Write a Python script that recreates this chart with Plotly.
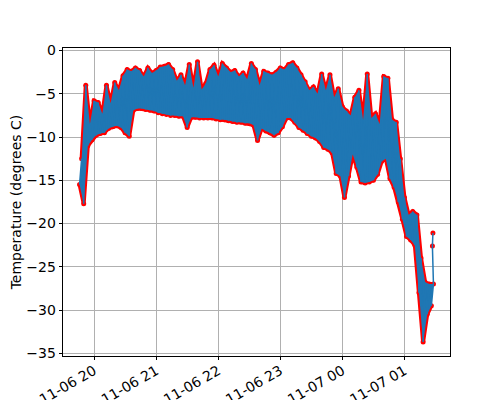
import pandas as pd
import plotly.graph_objects as go

# minutes after 2019-11-06 20:00; one low / high reading every 4 minutes
minutes = list(range(-14, 327, 4))
low = [-15.5, -17.7, -11.0, -10.3, -9.8, -9.6, -9.5, -9.0, -8.8, -8.7,
       -8.9, -9.5, -9.9, -6.9, -6.7, -6.7, -6.8, -6.9, -7.0, -7.2,
       -7.3, -7.4, -7.5, -7.5, -7.6, -7.6, -8.9, -7.7, -7.7, -7.8,
       -7.8, -7.8, -7.8, -7.9, -8.0, -8.0, -8.1, -8.2, -8.3, -8.3,
       -8.4, -8.4, -8.6, -10.4, -9.0, -9.3, -9.5, -9.8, -9.5, -8.8,
       -7.8, -7.8, -8.3, -8.9, -9.2, -9.6, -9.9, -10.1, -10.5, -11.2,
       -11.4, -11.8, -14.2, -14.5, -17.0, -14.5, -12.0, -13.5, -15.2, -15.3,
       -15.2, -15.0, -14.3, -12.8, -12.5, -14.8, -15.8, -17.5, -19.5, -21.5,
       -21.9, -22.5, -28.0, -33.7, -30.5, -29.5]
high = [-12.5, -4.0, -8.5, -5.8, -6.0, -7.3, -4.0, -6.1, -3.7, -4.6,
        -2.9, -2.2, -2.4, -2.0, -2.3, -3.0, -2.0, -2.6, -2.3, -1.9,
        -1.8, -1.6, -2.2, -3.5, -2.8, -4.0, -1.6, -4.3, -1.3, -4.5,
        -3.8, -2.2, -1.7, -3.0, -1.5, -2.0, -2.5, -2.3, -3.0, -2.6,
        -3.3, -1.5, -2.2, -4.0, -2.4, -2.6, -2.8, -2.5, -2.0, -2.2,
        -1.6, -1.4, -2.0, -2.8, -3.6, -4.6, -4.2, -5.0, -2.7, -4.6,
        -2.8, -5.4, -4.4, -6.5, -7.0, -7.5, -5.4, -4.6, -8.0, -2.7,
        -7.8, -7.3, -8.5, -3.0, -3.2, -8.0, -8.3, -12.5, -17.0, -19.0,
        -18.6, -19.0, -24.0, -26.8, -27.0, -27.0]
tail_minutes = [327, 327.5]
tail_temp = [-22.6, -21.1]

t0 = pd.Timestamp("2019-11-06 20:00")
t_low = [t0 + pd.Timedelta(minutes=m) for m in minutes]
t_high = [t0 + pd.Timedelta(minutes=m + 2) for m in minutes]

times, temps = [], []
for tl, th, lo, hi in zip(t_low, t_high, low, high):
    times += [tl, th]
    temps += [lo, hi]
times += [t0 + pd.Timedelta(minutes=m) for m in tail_minutes]
temps += tail_temp

blue = "#1f77b4"
fig = go.Figure()
# red dots underneath, the edge readings form a red rim around the band
fig.add_trace(go.Scatter(x=times, y=temps, mode="markers",
                         marker=dict(color="red", size=5), hoverinfo="skip"))
fig.add_trace(go.Scatter(x=t_low, y=low, mode="lines", line=dict(width=4, color="red"),
                         hoverinfo="skip"))
fig.add_trace(go.Scatter(x=t_high, y=high, mode="lines", line=dict(width=4, color="red"),
                         hoverinfo="skip"))
# dense band of readings
fig.add_trace(go.Scatter(x=t_low, y=low, mode="lines", line=dict(width=0, color=blue),
                         hoverinfo="skip"))
fig.add_trace(go.Scatter(x=t_high, y=high, mode="lines", line=dict(width=0, color=blue),
                         fill="tonexty", fillcolor=blue, hoverinfo="skip"))
fig.add_trace(go.Scatter(x=times, y=temps, mode="lines", line=dict(width=1.5, color=blue)))

axis_common = dict(
    showline=True, linecolor="black", linewidth=0.8, mirror=True,
    ticks="outside", ticklen=3.5, tickwidth=0.8, tickcolor="black",
    showgrid=True, gridcolor="#b0b0b0", gridwidth=0.8,
    zeroline=False, automargin=False,
    tickfont=dict(family="DejaVu Sans", size=14, color="black"),
)
fig.update_xaxes(
    type="date",
    range=[t0 - pd.Timedelta(minutes=30), t0 + pd.Timedelta(minutes=344)],
    dtick=3600000, tick0=t0, tickformat="%m-%d %H", tickangle=-30,
    ticklabelstandoff=-3,
    **axis_common,
)
fig.update_yaxes(
    range=[-35.32, 0.3], dtick=5, tick0=0,
    title=dict(text="Temperature (degrees C)", standoff=8,
               font=dict(family="DejaVu Sans", size=14, color="black")),
    **axis_common,
)
# page body adds 8px offset, so margins are shifted to land the axes where they belong
fig.update_layout(
    width=500, height=400,
    margin=dict(l=55, r=58, t=40, b=52),
    paper_bgcolor="white", plot_bgcolor="white",
    showlegend=False,
    font=dict(family="DejaVu Sans"),
)
fig.write_html("out.html")
